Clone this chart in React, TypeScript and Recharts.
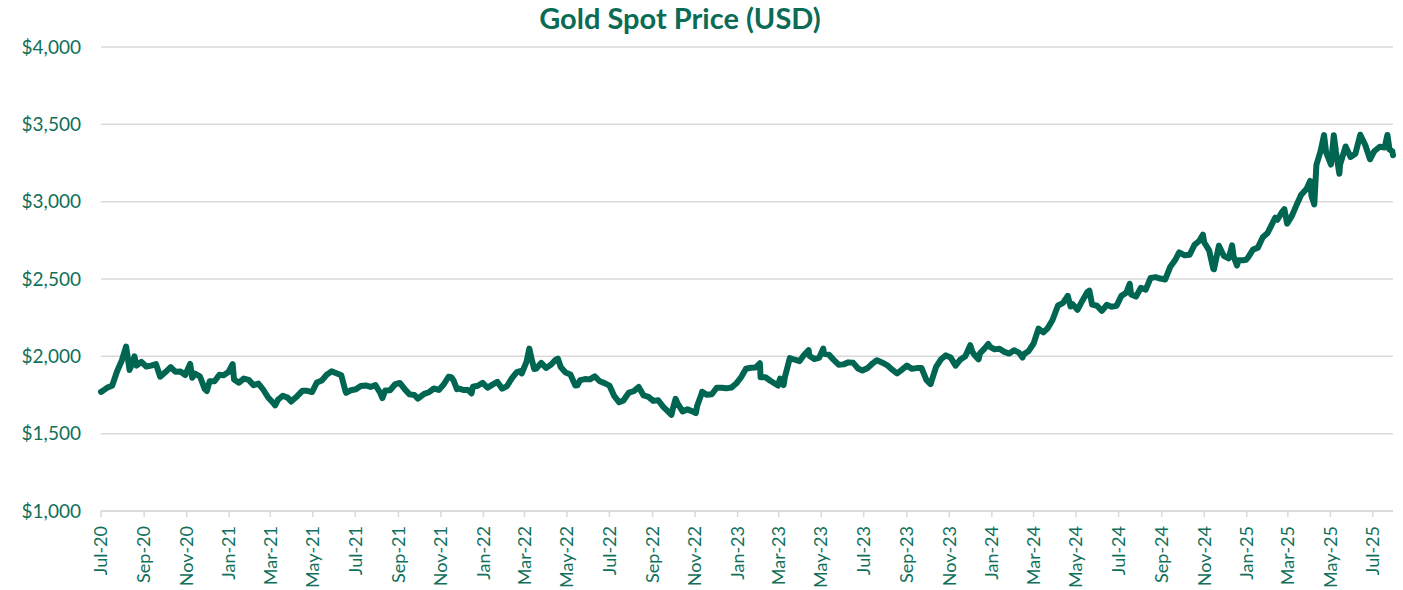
import { LineChart, Line, XAxis, YAxis, CartesianGrid } from 'recharts';

// Gold spot price, USD/oz (roughly weekly)
const y2020: [string, number][] = [
  ['2020-07-01', 1770], ['2020-07-03', 1775], ['2020-07-10', 1798], ['2020-07-17', 1810],
  ['2020-07-24', 1902], ['2020-07-31', 1975], ['2020-08-06', 2063], ['2020-08-07', 2035],
  ['2020-08-11', 1912], ['2020-08-14', 1944], ['2020-08-18', 2000], ['2020-08-21', 1940],
  ['2020-08-28', 1964], ['2020-09-04', 1934], ['2020-09-11', 1940], ['2020-09-18', 1950],
  ['2020-09-24', 1868], ['2020-10-02', 1900], ['2020-10-09', 1930], ['2020-10-16', 1900],
  ['2020-10-23', 1902], ['2020-10-30', 1879], ['2020-11-06', 1951], ['2020-11-09', 1862],
  ['2020-11-13', 1888], ['2020-11-20', 1871], ['2020-11-27', 1788], ['2020-11-30', 1776],
  ['2020-12-04', 1839], ['2020-12-11', 1839], ['2020-12-18', 1881], ['2020-12-24', 1877],
  ['2020-12-31', 1898],
];

const y2021: [string, number][] = [
  ['2021-01-06', 1950], ['2021-01-08', 1850], ['2021-01-15', 1829], ['2021-01-22', 1856],
  ['2021-01-29', 1848], ['2021-02-05', 1814], ['2021-02-12', 1824], ['2021-02-19', 1784],
  ['2021-02-26', 1734], ['2021-03-05', 1700], ['2021-03-08', 1683], ['2021-03-12', 1719],
  ['2021-03-19', 1745], ['2021-03-26', 1733], ['2021-03-31', 1708], ['2021-04-09', 1744],
  ['2021-04-16', 1777], ['2021-04-23', 1777], ['2021-04-30', 1769], ['2021-05-07', 1831],
  ['2021-05-14', 1844], ['2021-05-21', 1881], ['2021-05-28', 1903], ['2021-06-04', 1891],
  ['2021-06-11', 1877], ['2021-06-17', 1774], ['2021-06-18', 1764], ['2021-06-25', 1781],
  ['2021-07-02', 1787], ['2021-07-09', 1808], ['2021-07-16', 1812], ['2021-07-23', 1802],
  ['2021-07-30', 1814], ['2021-08-06', 1763], ['2021-08-09', 1730], ['2021-08-13', 1779],
  ['2021-08-20', 1781], ['2021-08-27', 1818], ['2021-09-03', 1828], ['2021-09-10', 1788],
  ['2021-09-17', 1754], ['2021-09-24', 1750], ['2021-09-29', 1726], ['2021-10-08', 1757],
  ['2021-10-15', 1768], ['2021-10-22', 1792], ['2021-10-29', 1783], ['2021-11-05', 1818],
  ['2021-11-12', 1868], ['2021-11-16', 1865], ['2021-11-19', 1846], ['2021-11-24', 1788],
  ['2021-11-26', 1792], ['2021-12-03', 1783], ['2021-12-10', 1783], ['2021-12-15', 1760],
  ['2021-12-17', 1804], ['2021-12-24', 1810], ['2021-12-31', 1829],
];

const y2022: [string, number][] = [
  ['2022-01-07', 1797], ['2022-01-14', 1817], ['2022-01-21', 1835], ['2022-01-28', 1791],
  ['2022-02-04', 1808], ['2022-02-11', 1859], ['2022-02-18', 1898], ['2022-02-24', 1905],
  ['2022-02-25', 1889], ['2022-03-04', 1966], ['2022-03-08', 2050], ['2022-03-11', 1988],
  ['2022-03-15', 1918], ['2022-03-18', 1921], ['2022-03-25', 1958], ['2022-04-01', 1925],
  ['2022-04-08', 1945], ['2022-04-14', 1975], ['2022-04-18', 1985], ['2022-04-22', 1931],
  ['2022-04-29', 1896], ['2022-05-06', 1883], ['2022-05-13', 1811], ['2022-05-16', 1813],
  ['2022-05-20', 1846], ['2022-05-27', 1853], ['2022-06-03', 1851], ['2022-06-10', 1871],
  ['2022-06-17', 1839], ['2022-06-24', 1827], ['2022-07-01', 1811], ['2022-07-08', 1742],
  ['2022-07-15', 1703], ['2022-07-21', 1714], ['2022-07-29', 1766], ['2022-08-05', 1775],
  ['2022-08-12', 1802], ['2022-08-19', 1747], ['2022-08-26', 1738], ['2022-09-02', 1712],
  ['2022-09-09', 1716], ['2022-09-16', 1675], ['2022-09-23', 1644], ['2022-09-28', 1622],
  ['2022-09-30', 1661], ['2022-10-04', 1725], ['2022-10-07', 1695], ['2022-10-14', 1644],
  ['2022-10-21', 1657], ['2022-10-28', 1644], ['2022-11-02', 1633], ['2022-11-04', 1681],
  ['2022-11-10', 1755], ['2022-11-11', 1771], ['2022-11-18', 1751], ['2022-11-25', 1755],
  ['2022-12-02', 1797], ['2022-12-09', 1797], ['2022-12-16', 1793], ['2022-12-23', 1798],
  ['2022-12-30', 1824],
];

const y2023: [string, number][] = [
  ['2023-01-06', 1865], ['2023-01-13', 1920], ['2023-01-20', 1926], ['2023-01-27', 1928],
  ['2023-02-02', 1955], ['2023-02-03', 1865], ['2023-02-10', 1865], ['2023-02-17', 1842],
  ['2023-02-28', 1811], ['2023-03-03', 1856], ['2023-03-08', 1814], ['2023-03-10', 1868],
  ['2023-03-17', 1989], ['2023-03-24', 1978], ['2023-03-31', 1969], ['2023-04-06', 2007],
  ['2023-04-13', 2040], ['2023-04-14', 2004], ['2023-04-21', 1983], ['2023-04-28', 1990],
  ['2023-05-04', 2050], ['2023-05-05', 2016], ['2023-05-12', 2011], ['2023-05-19', 1977],
  ['2023-05-26', 1946], ['2023-06-02', 1948], ['2023-06-09', 1961], ['2023-06-16', 1958],
  ['2023-06-23', 1921], ['2023-06-29', 1908], ['2023-07-07', 1925], ['2023-07-14', 1955],
  ['2023-07-20', 1975], ['2023-07-28', 1959], ['2023-08-04', 1942], ['2023-08-11', 1914],
  ['2023-08-18', 1889], ['2023-08-25', 1914], ['2023-09-01', 1940], ['2023-09-08', 1919],
  ['2023-09-15', 1924], ['2023-09-22', 1925], ['2023-09-29', 1848], ['2023-10-05', 1820],
  ['2023-10-06', 1833], ['2023-10-13', 1932], ['2023-10-20', 1981], ['2023-10-27', 2006],
  ['2023-11-03', 1992], ['2023-11-10', 1940], ['2023-11-17', 1980], ['2023-11-24', 2001],
  ['2023-12-01', 2072], ['2023-12-04', 2030], ['2023-12-08', 2004], ['2023-12-13', 1980],
  ['2023-12-15', 2019], ['2023-12-22', 2053], ['2023-12-27', 2080], ['2023-12-29', 2063],
];

const y2024: [string, number][] = [
  ['2024-01-05', 2045], ['2024-01-12', 2049], ['2024-01-19', 2029], ['2024-01-26', 2018],
  ['2024-02-02', 2039], ['2024-02-09', 2024], ['2024-02-14', 1992], ['2024-02-16', 2013],
  ['2024-02-23', 2035], ['2024-03-01', 2083], ['2024-03-08', 2179], ['2024-03-15', 2155],
  ['2024-03-21', 2181], ['2024-03-28', 2233], ['2024-04-05', 2329], ['2024-04-12', 2344],
  ['2024-04-19', 2391], ['2024-04-23', 2322], ['2024-04-26', 2337], ['2024-05-03', 2301],
  ['2024-05-10', 2360], ['2024-05-17', 2415], ['2024-05-20', 2425], ['2024-05-24', 2334],
  ['2024-05-31', 2327], ['2024-06-07', 2294], ['2024-06-14', 2333], ['2024-06-21', 2321],
  ['2024-06-28', 2326], ['2024-07-05', 2391], ['2024-07-12', 2411], ['2024-07-17', 2469],
  ['2024-07-19', 2400], ['2024-07-26', 2386], ['2024-08-02', 2443], ['2024-08-09', 2431],
  ['2024-08-16', 2507], ['2024-08-23', 2512], ['2024-08-30', 2503], ['2024-09-06', 2497],
  ['2024-09-13', 2577], ['2024-09-20', 2621], ['2024-09-26', 2672], ['2024-10-04', 2653],
  ['2024-10-11', 2657], ['2024-10-18', 2721], ['2024-10-25', 2747], ['2024-10-30', 2787],
  ['2024-11-01', 2736], ['2024-11-08', 2685], ['2024-11-14', 2565], ['2024-11-15', 2563],
  ['2024-11-22', 2715], ['2024-11-29', 2650], ['2024-12-06', 2633], ['2024-12-11', 2718],
  ['2024-12-13', 2648], ['2024-12-18', 2587], ['2024-12-20', 2622], ['2024-12-27', 2621],
  ['2024-12-31', 2624],
];

const y2025: [string, number][] = [
  ['2025-01-03', 2640], ['2025-01-10', 2690], ['2025-01-17', 2703], ['2025-01-24', 2770],
  ['2025-01-31', 2798], ['2025-02-07', 2861], ['2025-02-11', 2897], ['2025-02-14', 2883],
  ['2025-02-21', 2936], ['2025-02-24', 2952], ['2025-02-28', 2858], ['2025-03-07', 2910],
  ['2025-03-14', 2984], ['2025-03-20', 3043], ['2025-03-28', 3084], ['2025-04-02', 3134],
  ['2025-04-04', 3037], ['2025-04-08', 2982], ['2025-04-11', 3237], ['2025-04-17', 3327],
  ['2025-04-22', 3430], ['2025-04-25', 3319], ['2025-05-02', 3240], ['2025-05-06', 3430],
  ['2025-05-09', 3325], ['2025-05-14', 3180], ['2025-05-15', 3240], ['2025-05-23', 3357],
  ['2025-05-30', 3289], ['2025-06-06', 3310], ['2025-06-13', 3433], ['2025-06-20', 3368],
  ['2025-06-27', 3274], ['2025-07-03', 3326], ['2025-07-11', 3355], ['2025-07-18', 3350],
  ['2025-07-22', 3431], ['2025-07-25', 3337], ['2025-07-29', 3326], ['2025-07-30', 3300],
];

const yTicks = [1000, 1500, 2000, 2500, 3000, 3500, 4000];
const monthNames = ['Jan', 'Feb', 'Mar', 'Apr', 'May', 'Jun', 'Jul', 'Aug', 'Sep', 'Oct', 'Nov', 'Dec'];
// x labels: every second month, Jul-20 .. Jul-25
const xTickMonths = [
  '2020-07', '2020-09', '2020-11', '2021-01', '2021-03', '2021-05', '2021-07', '2021-09', '2021-11',
  '2022-01', '2022-03', '2022-05', '2022-07', '2022-09', '2022-11', '2023-01', '2023-03', '2023-05',
  '2023-07', '2023-09', '2023-11', '2024-01', '2024-03', '2024-05', '2024-07', '2024-09', '2024-11',
  '2025-01', '2025-03', '2025-05', '2025-07',
];

const toTime = (s: string) => new Date(s + 'T00:00:00Z').getTime();

const data = [...y2020, ...y2021, ...y2022, ...y2023, ...y2024, ...y2025].map(([d, p]) => ({
  t: toTime(d),
  price: p,
}));
const xTicks = xTickMonths.map((m) => toTime(m + '-01'));

const GREEN = '#006652';
const TEXT = '#10705A';
const FONT = 'Lato, "Open Sans", sans-serif';

const fmtMonth = (t: number) => {
  const d = new Date(t);
  return `${monthNames[d.getUTCMonth()]}-${String(d.getUTCFullYear()).slice(2)}`;
};

function MonthTick(props: any) {
  const { x, y, payload } = props;
  return (
    <g transform={`translate(${x},${y})`}>
      <text
        transform="rotate(-90)"
        x={-9}
        y={0}
        dy="0.35em"
        textAnchor="end"
        fill={TEXT}
        fontSize={18}
        fontFamily={FONT}
      >
        {fmtMonth(payload.value)}
      </text>
    </g>
  );
}

export default function App() {
  return (
    <div style={{ position: 'absolute', left: 0, top: 0, width: 1403, height: 590, background: '#fff' }}>
      <div
        style={{
          position: 'absolute',
          left: 0,
          width: 1360,
          top: 0,
          textAlign: 'center',
          fontFamily: FONT,
          fontWeight: 700,
          fontSize: 29,
          color: '#0B6B55',
        }}
      >
        Gold Spot Price (USD)
      </div>
      <LineChart width={1403} height={590} data={data} margin={{ top: 47, right: 10, left: 0, bottom: 0 }}>
        <CartesianGrid horizontal vertical={false} stroke="#D9D9D9" strokeWidth={1.5} />
        <XAxis
          dataKey="t"
          type="number"
          scale="time"
          domain={['dataMin', 'dataMax']}
          ticks={xTicks}
          tick={<MonthTick />}
          height={79}
          interval={0}
          tickSize={6}
          tickMargin={0}
          stroke="#D9D9D9"
          axisLine={{ stroke: '#D9D9D9', strokeWidth: 1.5 }}
          tickLine={{ stroke: '#D9D9D9', strokeWidth: 1.5 }}
        />
        <YAxis
          domain={[1000, 4000]}
          ticks={yTicks}
          width={101}
          axisLine={false}
          tickLine={false}
          tickSize={0}
          tickMargin={20}
          interval={0}
          tickFormatter={(v: number) => `$${v.toLocaleString('en-US')}`}
          tick={{ fill: TEXT, fontSize: 19, fontFamily: FONT }}
        />
        <Line
          type="linear"
          dataKey="price"
          stroke={GREEN}
          strokeWidth={6}
          dot={false}
          isAnimationActive={false}
          strokeLinejoin="round"
          strokeLinecap="round"
        />
      </LineChart>
    </div>
  );
}
